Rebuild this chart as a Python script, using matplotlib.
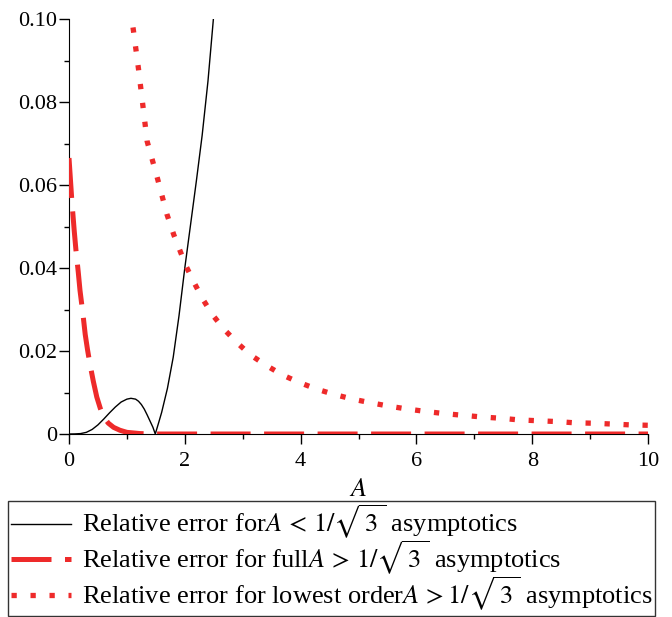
import matplotlib
matplotlib.use("Agg")
import matplotlib.pyplot as plt
from matplotlib.ticker import MultipleLocator

plt.rcParams['font.family'] = ['Liberation Serif', 'DejaVu Serif']
plt.rcParams['mathtext.fontset'] = 'stix'

# relative error for A < 1/sqrt(3) asymptotics (black, solid)
a_small = [0.0, 0.1, 0.2, 0.3, 0.4, 0.5, 0.6, 0.7, 0.8, 0.9, 1.0, 1.07, 1.15, 1.2, 1.25, 1.3,
           1.35, 1.4, 1.45, 1.49, 1.55, 1.6, 1.7, 1.8, 1.9, 2.0, 2.1, 2.2, 2.3, 2.4, 2.5]
err_small = [0.0, 0.00002, 0.0001, 0.0004, 0.0011, 0.0022, 0.0036, 0.0051, 0.0065, 0.0077,
             0.0084, 0.0086, 0.0084, 0.0079, 0.0071, 0.0060, 0.0046, 0.0031, 0.0016, 0.0,
             0.0028, 0.0052, 0.0110, 0.0185, 0.0285, 0.0400, 0.0505, 0.0610, 0.0720, 0.0850,
             0.1010]

# relative error for full A > 1/sqrt(3) asymptotics (red, dashed)
a_full = [0.0, 0.05, 0.09, 0.12, 0.16, 0.19, 0.24, 0.28, 0.32, 0.36, 0.42, 0.48, 0.54, 0.6,
          0.68, 0.77, 0.88, 1.0, 1.23, 1.5, 4.0, 7.0, 10.0]
err_full = [0.0665, 0.0560, 0.0490, 0.0443, 0.0390, 0.0346, 0.0290, 0.0240, 0.0203, 0.0170,
            0.0127, 0.0089, 0.0062, 0.0040, 0.0026, 0.0016, 0.0009, 0.0004, 0.0001, 0.0,
            0.0, 0.0, 0.0]

# relative error for lowest order A > 1/sqrt(3) asymptotics (red, dotted)
a_low = [1.06, 1.115, 1.2, 1.35, 1.52, 1.69, 1.81, 2.02, 2.16, 2.31, 2.48, 2.68, 2.91, 3.14,
         3.41, 3.69, 3.98, 4.28, 4.59, 4.9, 5.22, 5.53, 5.85, 6.18, 6.49, 6.81, 7.13, 7.45,
         7.77, 8.09, 8.42, 8.73, 9.05, 9.38, 9.69, 10.0]
err_low = [0.1025, 0.0970, 0.0880, 0.0705, 0.0620, 0.0530, 0.0480, 0.0405, 0.0365, 0.0325,
           0.0287, 0.0252, 0.0219, 0.0190, 0.0165, 0.0142, 0.0124, 0.0108, 0.0095, 0.0084,
           0.0075, 0.0067, 0.0060, 0.0054, 0.0049, 0.0045, 0.0041, 0.0038, 0.0034, 0.0032,
           0.0030, 0.0027, 0.0026, 0.0024, 0.0022, 0.0021]

labels = [r"Relative error for$A\,<\,1/\sqrt{\,3\,}$ asymptotics",
          r"Relative error for full$A\,>\,1/\sqrt{\,3\,}$ asymptotics",
          r"Relative error for lowest order$A\,>1/\sqrt{\,3\,}$ asymptotics"]

red = '#EE2A2A'

fig = plt.figure(figsize=(6.72, 6.17), dpi=100)
ax = fig.add_axes([69/672, 183/617, 579/672, 415/617])

l1, = ax.plot(a_small, err_small, '-', color='black', lw=1.0, zorder=3)
l2, = ax.plot(a_full, err_full, color=red, lw=3.6, dashes=(8.0, 2.7), zorder=4,
              solid_capstyle='butt')
l3, = ax.plot(a_low, err_low, color=red, lw=3.8, dashes=(1.0, 2.6), zorder=4)

ax.set_xlim(0, 10)
ax.set_ylim(0, 0.10)
ax.spines['top'].set_visible(False)
ax.spines['right'].set_visible(False)
ax.xaxis.set_minor_locator(MultipleLocator(1))
ax.yaxis.set_minor_locator(MultipleLocator(0.01))
ax.set_yticks([0, 0.02, 0.04, 0.06, 0.08, 0.10])
ax.set_yticklabels(['0', '0.02', '0.04', '0.06', '0.08', '0.10'])
ax.set_xticks([0, 2, 4, 6, 8, 10])
ax.set_xticklabels(['0', '2', '4', '6', '8', '10'])
ax.tick_params(axis='x', which='major', length=7, width=1, labelsize=16, pad=6)
ax.tick_params(axis='y', which='major', length=7, width=1, labelsize=16, pad=1.5)
ax.tick_params(which='minor', length=3.5, width=1)
ax.set_xlabel('$A$', fontsize=19, labelpad=6)

leg = fig.legend([l1, l2, l3], labels, loc='lower left',
                 bbox_to_anchor=(8/672, 1/617, 647/672, 115/617), mode='expand',
                 fontsize=19, frameon=True, fancybox=False, edgecolor='black',
                 handlelength=2.3, handletextpad=0.4, borderpad=0.1, labelspacing=-0.08,
                 borderaxespad=0, handleheight=0.7)
leg.get_frame().set_linewidth(1.0)

fig.savefig('out.png', dpi=100)
